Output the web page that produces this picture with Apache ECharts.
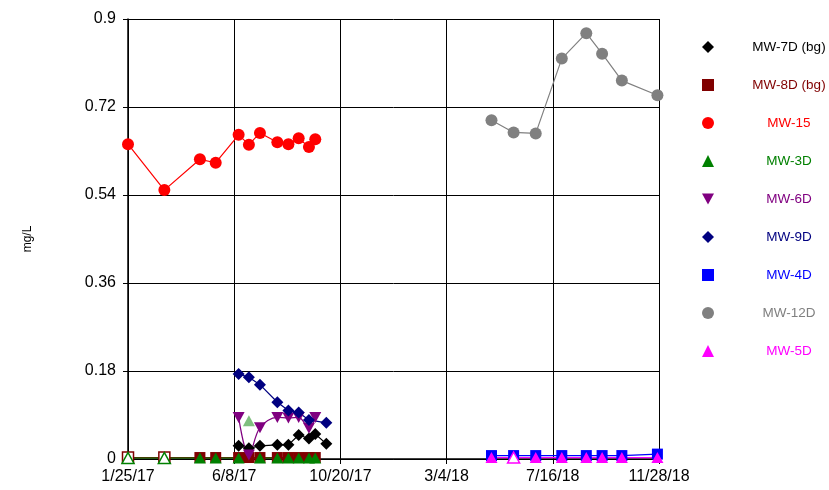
<!DOCTYPE html>
<html>
<head>
<meta charset="utf-8">
<script src="https://cdn.jsdelivr.net/npm/echarts@6/dist/echarts.min.js"></script>
<style>
  html, body { margin: 0; padding: 0; background: #fff; }
  #chart { width: 829px; height: 490px; }
</style>
</head>
<body>
<div id="chart"></div>
<script>
// Sampling dates (ISO) and concentrations (mg/L) per well
const mw7dDates = ['2017-06-14','2017-06-27','2017-07-11','2017-08-02','2017-08-16','2017-08-29','2017-09-11','2017-09-19','2017-10-03'];
const mw7dValues = [0.027, 0.022, 0.027, 0.029, 0.029, 0.049, 0.042, 0.051, 0.031];

const mw8dDates = ['2017-01-25','2017-03-12','2017-04-26','2017-05-16','2017-06-14','2017-06-27','2017-07-11','2017-08-02','2017-08-16','2017-08-29','2017-09-11','2017-09-19'];
const mw8dValues = [0.003, 0.003, 0.003, 0.003, 0.003, 0.003, 0.003, 0.003, 0.003, 0.003, 0.003, 0.003];
const mw8dNonDetect = [true, true, false, false, false, false, false, false, false, false, false, false];

const mw15Dates = ['2017-01-25','2017-03-12','2017-04-26','2017-05-16','2017-06-14','2017-06-27','2017-07-11','2017-08-02','2017-08-16','2017-08-29','2017-09-11','2017-09-19'];
const mw15Values = [0.644, 0.550, 0.613, 0.606, 0.663, 0.643, 0.667, 0.648, 0.644, 0.656, 0.638, 0.654];

const mw3dDates = ['2017-01-25','2017-03-12','2017-04-26','2017-05-16','2017-06-14','2017-07-11','2017-08-02','2017-08-16','2017-08-29','2017-09-11','2017-09-19'];
const mw3dValues = [0.002, 0.002, 0.002, 0.002, 0.002, 0.002, 0.002, 0.002, 0.002, 0.002, 0.002];
const mw3dNonDetect = [true, true, false, false, false, false, false, false, false, false, false];
const mw3dFlaggedDates = ['2017-06-27'];
const mw3dFlaggedValues = [0.078];

const mw6dDates = ['2017-06-14','2017-06-27','2017-07-11','2017-08-02','2017-08-16','2017-08-29','2017-09-11','2017-09-19'];
const mw6dValues = [0.085, 0.008, 0.064, 0.085, 0.084, 0.085, 0.063, 0.085];

const mw9dDates = ['2017-06-14','2017-06-27','2017-07-11','2017-08-02','2017-08-16','2017-08-29','2017-09-11','2017-10-03'];
const mw9dValues = [0.174, 0.167, 0.152, 0.116, 0.099, 0.095, 0.080, 0.074];

const lateDates = ['2018-04-30','2018-05-28','2018-06-25','2018-07-28','2018-08-28','2018-09-17','2018-10-12','2018-11-26'];
const mw4dValues = [0.007, 0.007, 0.007, 0.007, 0.007, 0.007, 0.007, 0.010];
const mw12dValues = [0.693, 0.668, 0.666, 0.819, 0.871, 0.829, 0.774, 0.744];
const mw5dValues = [0.003, 0.003, 0.003, 0.003, 0.003, 0.003, 0.003, 0.003];
const mw5dNonDetect = [false, true, false, false, false, false, false, false];

// Axis ticks
const xTickLabels = ['1/25/17', '6/8/17', '10/20/17', '3/4/18', '7/16/18', '11/28/18'];
const yTickLabels = ['0', '0.18', '0.36', '0.54', '0.72', '0.9'];

const startDate = '2017-01-25';
const endDate = '2018-11-28';
const DAY = 86400000;
function toUtc(s) { const p = s.split('-').map(Number); return Date.UTC(p[0], p[1] - 1, p[2]); }
function dayOf(s) { return Math.round((toUtc(s) - toUtc(startDate)) / DAY); }
const xSpan = dayOf(endDate);
const xStep = xSpan / (xTickLabels.length - 1);

const legendNames = ['MW-7D (bg)', 'MW-8D (bg)', 'MW-15', 'MW-3D', 'MW-6D', 'MW-9D', 'MW-4D', 'MW-12D', 'MW-5D'];
const colors = ['#000000', '#800000', '#ff0000', '#008000', '#800080', '#000080', '#0000ff', '#808080', '#ff00ff'];
const downTri = 'path://M0,0L20,0L10,18Z';
const symbols = ['diamond', 'rect', 'circle', 'triangle', downTri, 'diamond', 'rect', 'circle', 'triangle'];
const symbolSizes = [12, 11, 12, [12, 11], [12, 11], 12, 11, 12, [12, 11]];

function points(dates, values, hollow, color) {
  return dates.map(function (d, i) {
    const item = { value: [dayOf(d), values[i]] };
    if (hollow && hollow[i]) {
      item.itemStyle = { color: '#ffffff', borderColor: color, borderWidth: 1.5 };
    }
    return item;
  });
}

function lineSeries(idx, data, extra) {
  const s = {
    name: legendNames[idx],
    type: 'line',
    data: data,
    symbol: symbols[idx],
    symbolSize: symbolSizes[idx],
    showAllSymbol: true,
    color: colors[idx],
    itemStyle: { color: colors[idx] },
    lineStyle: { color: colors[idx], width: 1.2 },
    emphasis: { disabled: true }
  };
  return Object.assign(s, extra || {});
}

const series = [
  lineSeries(0, points(mw7dDates, mw7dValues)),
  lineSeries(1, points(mw8dDates, mw8dValues, mw8dNonDetect, colors[1])),
  lineSeries(2, points(mw15Dates, mw15Values)),
  lineSeries(3, points(mw3dDates, mw3dValues, mw3dNonDetect, colors[3])),
  {
    name: 'MW-3D',
    type: 'scatter',
    data: points(mw3dFlaggedDates, mw3dFlaggedValues),
    symbol: 'triangle',
    symbolSize: [12, 11],
    itemStyle: { color: '#008000', opacity: 0.5 },
    emphasis: { disabled: true }
  },
  lineSeries(4, points(mw6dDates, mw6dValues), { smooth: 0.35 }),
  lineSeries(5, points(mw9dDates, mw9dValues)),
  lineSeries(6, points(lateDates, mw4dValues)),
  lineSeries(7, points(lateDates, mw12dValues)),
  lineSeries(8, points(lateDates, mw5dValues, mw5dNonDetect, colors[8]))
];

const legendRich = {};
legendNames.forEach(function (n, i) {
  legendRich['t' + i] = { color: colors[i], width: 140, align: 'center', fontSize: 13.5, fontFamily: 'Liberation Sans, Arial, sans-serif' };
});

const option = {
  animation: false,
  backgroundColor: '#ffffff',
  grid: { left: 128, right: 170, top: 19, bottom: 31, containLabel: false },
  legend: {
    orient: 'vertical',
    left: 697,
    top: 35,
    itemWidth: 12,
    itemHeight: 12,
    itemGap: 24,
    selectedMode: false,
    data: legendNames.map(function (n, i) {
      return { name: n, icon: i === 4 ? downTri : symbols[i], itemStyle: { color: colors[i] } };
    }),
    formatter: function (name) {
      return '{t' + legendNames.indexOf(name) + '|' + name + '}';
    },
    textStyle: { rich: legendRich, fontSize: 13.5 }
  },
  xAxis: {
    type: 'value',
    min: 0,
    max: xSpan,
    interval: xStep,
    axisLine: { show: true, onZero: false, lineStyle: { color: '#000', width: 1.5 } },
    axisTick: { show: true, length: 5, lineStyle: { color: '#000' } },
    splitLine: { show: true, lineStyle: { color: '#000', width: 1 } },
    axisLabel: {
      color: '#000',
      fontSize: 16,
      fontFamily: 'Liberation Sans, Arial, sans-serif',
      margin: 10,
      formatter: function (v) { return xTickLabels[Math.round(v / xStep)]; }
    }
  },
  yAxis: {
    type: 'value',
    min: 0,
    max: 0.9,
    interval: 0.18,
    name: 'mg/L',
    nameLocation: 'middle',
    nameRotate: 90,
    nameGap: 94,
    nameTextStyle: { color: '#000', fontSize: 12, fontFamily: 'Liberation Sans, Arial, sans-serif' },
    axisLine: { show: true, lineStyle: { color: '#000', width: 1.5 } },
    axisTick: { show: true, length: 5, lineStyle: { color: '#000' } },
    splitLine: { show: true, lineStyle: { color: '#000', width: 1 } },
    axisLabel: {
      color: '#000',
      fontSize: 16,
      fontFamily: 'Liberation Sans, Arial, sans-serif',
      margin: 12,
      formatter: function (v) { return yTickLabels[Math.round(v / 0.18)]; }
    }
  },
  series: series
};

const chart = echarts.init(document.getElementById('chart'), null, { renderer: 'canvas' });
chart.setOption(option);
</script>
</body>
</html>
